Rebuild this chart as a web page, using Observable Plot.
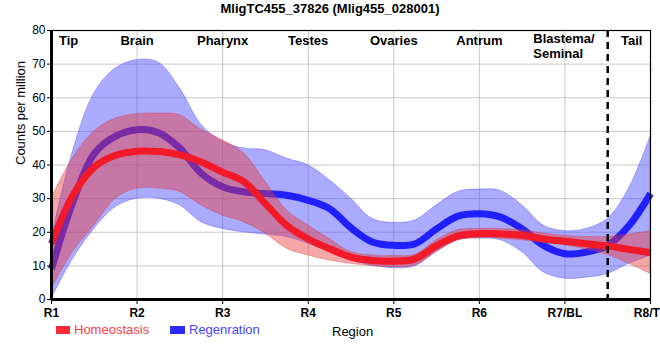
<!DOCTYPE html>
<html><head><meta charset="utf-8">
<script src="https://cdn.jsdelivr.net/npm/d3@7"></script>
<script src="https://cdn.jsdelivr.net/npm/@observablehq/plot@0.6"></script>
<style>
body{margin:0;background:#fff;font-family:"Liberation Sans",Arial,sans-serif;}
#wrap{position:relative;width:660px;height:360px;overflow:hidden;}
#chart{position:absolute;left:0;top:0;}
#title{position:absolute;top:1px;left:0;width:660px;text-align:center;font-weight:bold;font-size:13px;line-height:16px;color:#000;}
.leg{position:absolute;top:322px;font-size:13px;line-height:16px;}
.sw{position:absolute;top:326px;height:8px;}
#region{position:absolute;left:332px;top:324px;font-size:13px;line-height:16px;color:#000;}
</style></head>
<body><div id="wrap">
<div id="chart"></div>
<div id="title">MligTC455_37826 (Mlig455_028001)</div>
<div class="sw" style="left:56px;width:14px;background:#f52a35"></div>
<div class="leg" style="left:74px;color:#ff4040">Homeostasis</div>
<div class="sw" style="left:170px;width:15px;background:#2b2bff"></div>
<div class="leg" style="left:189px;color:#4545ff">Regenration</div>
<div id="region">Region</div>
</div>
<script>
// Region positions (1 = R1 ... 8 = R8), sampled every quarter region
const xs = [1,1.25,1.5,1.75,2,2.25,2.5,2.75,3,3.25,3.5,3.75,4,4.25,4.5,4.75,5,5.25,5.5,5.75,6,6.25,6.5,6.75,7,7.25,7.5,7.75,8];
const homeo = [16.6,31,39.4,42.9,44.1,44,43,40.9,37.9,35,28.5,22,18,15.1,12.6,11.6,11.4,12.1,16,18.9,19.6,19.5,19.1,18,17.3,16.6,15.9,14.9,13.9];
const homeoHi = [30,42,50,53.8,55.1,55.3,54.8,50.5,47.4,43.4,35,26.5,22,18,14.1,13.1,12.9,13.3,17.6,20.6,21,21,20.6,19.6,18.9,18.6,18.6,19.3,20.3];
const homeoLo = [3,14.1,22,30,33,33,32,28,25,23,19.6,15.1,13.1,11.6,10.6,9.9,9.6,10.1,14.1,17.6,18.3,18.1,17.6,16.9,16.1,14.9,13.3,10.6,7.6];
const regen = [9.1,29,43.4,48.6,50.5,49.6,45,37.5,33.5,32,31.5,31,29.5,27,21.3,17.1,16.1,16.6,21,24.8,25.5,24.5,21,16.1,13.6,14.1,16.1,22,31.5];
const regenHi = [18,44,61.3,68.7,71.2,70.5,62.8,52,46.9,44.9,44.4,41.9,39.9,35.5,30,24,22.8,23.5,28,32,32.7,32.3,28,22,20.3,21,24,33,48.4];
const regenLo = [0.2,12,21,27.5,30,30,28,23,21,20,19.3,18.6,16.6,14.1,11.6,10.1,9.3,9.9,14.1,17.6,18.1,17.6,14.1,8.1,6.2,6.5,7.6,10.6,13];

const tickPos = [1,2,3,4,5,6,7,8];
const tickLabels = ["R1","R2","R3","R4","R5","R6","R7/BL","R8/TL"];
const regionNames = ["Tip","Brain","Pharynx","Testes","Ovaries","Antrum","Tail"];
const regionX = [1.2,2,3,4,5,6,7.78];
const blastemaName = ["Blastema/\nSeminal"];
const blastemaX = [6.63];
const yTicks = [0,10,20,30,40,50,60,70,80];
const divider = [7.5];

const homeoRows = xs.map((x,i)=>({x, y:homeo[i], lo:homeoLo[i], hi:homeoHi[i]}));
const regenRows = xs.map((x,i)=>({x, y:regen[i], lo:regenLo[i], hi:regenHi[i]}));
const curve = "catmull-rom";

const chart = Plot.plot({
  width: 660, height: 360,
  marginLeft: 51, marginRight: 10, marginTop: 30, marginBottom: 61,
  style: {fontFamily: "'Liberation Sans', Arial, sans-serif", fontSize: "12px", background: "transparent"},
  x: {domain: [1, 8], axis: null},
  y: {domain: [0, 80], axis: null},
  marks: [
    Plot.gridX(tickPos, {stroke: "#c8c8c8", strokeOpacity: 1}),
    Plot.gridY(yTicks, {stroke: "#c8c8c8", strokeOpacity: 1}),
    Plot.areaY(regenRows, {x: "x", y1: "lo", y2: "hi", curve, fill: "#4d4dff", fillOpacity: 0.48, stroke: "#3a3aff", strokeOpacity: 0.35, strokeWidth: 1}),
    Plot.lineY(regenRows, {x: "x", y: "y", curve, stroke: "#2020ff", strokeWidth: 7, strokeLinecap: "butt"}),
    Plot.areaY(homeoRows, {x: "x", y1: "lo", y2: "hi", curve, fill: "#e83a3a", fillOpacity: 0.45, stroke: "#d83030", strokeOpacity: 0.35, strokeWidth: 1}),
    Plot.lineY(homeoRows, {x: "x", y: "y", curve, stroke: "#f21a28", strokeWidth: 7, strokeLinecap: "butt"}),
    Plot.ruleX(divider, {stroke: "#000", strokeWidth: 2.5, strokeDasharray: "7,5"}),
    Plot.frame({stroke: "#000", strokeWidth: 1.2}),
    Plot.ruleX([1], {stroke: "#000", strokeWidth: 3}),
    Plot.ruleY([0], {stroke: "#000", strokeWidth: 3}),
    Plot.axisY(yTicks, {tickSize: 4, tickPadding: 2, fontSize: 12, fill: "#000", stroke: "#000", label: null}),
    Plot.axisX(tickPos, {tickSize: 5, tickPadding: 4, fontSize: 12, fontWeight: "bold", fill: "#000", stroke: "#000", tickFormat: (d, i) => tickLabels[i], label: null}),
    Plot.text(regionNames, {x: (d, i) => regionX[i], y: () => 80, text: d => d, dy: 10, fontSize: 13, fontWeight: "bold", fill: "#000", textAnchor: "middle"}),
    Plot.text(blastemaName, {x: (d, i) => blastemaX[i], y: () => 80, text: d => d, lineAnchor: "top", dy: 2, lineHeight: 1.15, fontSize: 13, fontWeight: "bold", fill: "#000", textAnchor: "start"}),
    Plot.text(["Counts per million"], {frameAnchor: "left", text: d => d, rotate: -90, dx: -31, fontSize: 13, fill: "#000"})
  ]
});
chart.style.overflow = "visible";
document.getElementById("chart").appendChild(chart);
</script>
</body></html>
